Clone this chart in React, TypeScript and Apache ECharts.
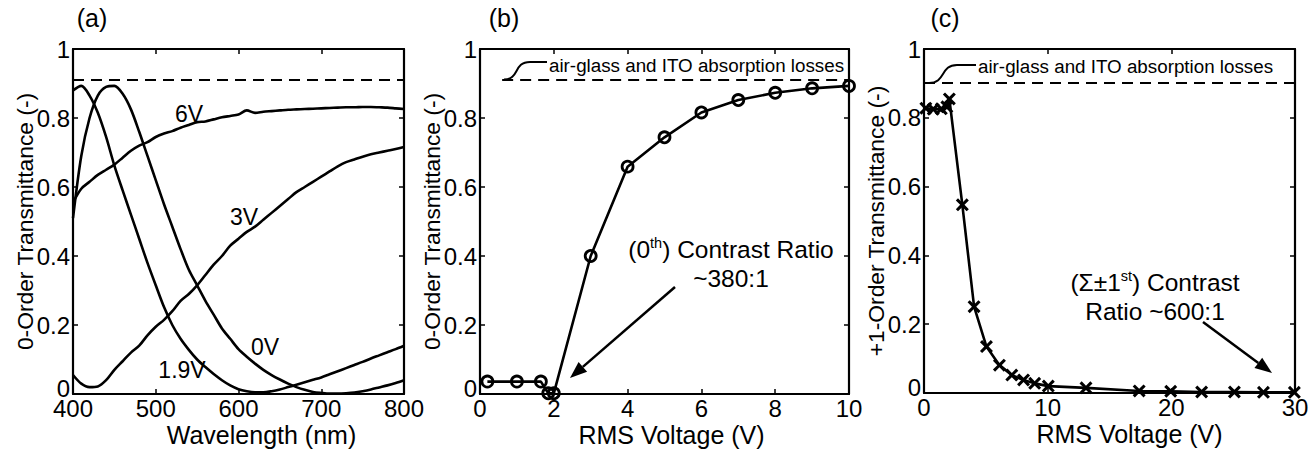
import React, { useEffect, useRef } from "react";
import * as echarts from "echarts";

const FONT = "'Liberation Sans', Arial, sans-serif";

// ---------- Panel (a): spectra ----------
const wavelengths = [400, 410, 420, 430, 440, 450, 460, 470, 480, 490, 500, 510, 520, 530, 540, 550, 560, 570, 580, 590, 600, 610, 620, 630, 640, 650, 660, 670, 680, 690, 700, 710, 720, 730, 740, 750, 760, 770, 780, 790, 800];
const trans0V = [0.51, 0.69, 0.8, 0.865, 0.89, 0.893, 0.87, 0.825, 0.76, 0.69, 0.62, 0.55, 0.485, 0.42, 0.36, 0.315, 0.27, 0.23, 0.19, 0.16, 0.13, 0.108, 0.088, 0.07, 0.055, 0.042, 0.03, 0.02, 0.012, 0.006, 0.003, 0.001, 0.001, 0.002, 0.004, 0.008, 0.013, 0.019, 0.025, 0.032, 0.04];
const trans19V = [0.88, 0.893, 0.865, 0.815, 0.745, 0.662, 0.59, 0.52, 0.45, 0.38, 0.315, 0.252, 0.2, 0.16, 0.128, 0.1, 0.078, 0.058, 0.04, 0.025, 0.014, 0.008, 0.005, 0.005, 0.008, 0.013, 0.02, 0.027, 0.034, 0.041, 0.048, 0.057, 0.066, 0.075, 0.084, 0.093, 0.103, 0.112, 0.121, 0.13, 0.14];
const trans3V = [0.055, 0.03, 0.02, 0.022, 0.04, 0.07, 0.095, 0.12, 0.14, 0.17, 0.195, 0.215, 0.24, 0.27, 0.29, 0.315, 0.345, 0.375, 0.4, 0.43, 0.45, 0.47, 0.485, 0.505, 0.525, 0.545, 0.565, 0.585, 0.6, 0.615, 0.63, 0.645, 0.66, 0.672, 0.68, 0.688, 0.695, 0.7, 0.705, 0.71, 0.716];
const trans6V = [0.555, 0.595, 0.615, 0.635, 0.65, 0.665, 0.685, 0.705, 0.72, 0.73, 0.745, 0.755, 0.762, 0.772, 0.78, 0.788, 0.79, 0.796, 0.802, 0.806, 0.81, 0.822, 0.815, 0.818, 0.82, 0.822, 0.824, 0.825, 0.826, 0.827, 0.828, 0.829, 0.83, 0.831, 0.831, 0.832, 0.832, 0.831, 0.83, 0.828, 0.826];
const lossLevelA = 0.912;

// ---------- Panel (b): 0th order vs voltage ----------
const voltsB = [0.2, 1, 1.65, 1.85, 2, 3, 4, 5, 6, 7, 8, 9, 10];
const transB = [0.036, 0.036, 0.036, 0.002, 0.002, 0.4, 0.659, 0.744, 0.816, 0.852, 0.873, 0.886, 0.893];
const lossLevelB = 0.912;
const lossStartB = 0.6;

// ---------- Panel (c): +1 order vs voltage ----------
const voltsC = [0.15, 0.75, 1.4, 1.85, 2.05, 3.1, 4.05, 5.05, 6.1, 7.1, 8.05, 8.95, 10.05, 13.1, 17.4, 19.95, 22.45, 25.1, 27.45, 29.95];
const transC = [0.828, 0.825, 0.826, 0.832, 0.855, 0.547, 0.251, 0.135, 0.081, 0.052, 0.038, 0.028, 0.02, 0.015, 0.006, 0.005, 0.003, 0.003, 0.002, 0.002];
const lossLevelC = 0.902;

const yTickLabels: Record<string, string> = { "0": "{z|0}", "0.2": "0.2", "0.4": "0.4", "0.6": "0.6", "0.8": "0.8", "1": "1" };

const zip = (xs: number[], ys: number[]) => xs.map((x, i) => [x, ys[i]]);

const X_SYMBOL = "path://M0,2 L2,0 L6,4 L10,0 L12,2 L8,6 L12,10 L10,12 L6,8 L2,12 L0,10 L4,6 Z";

function arrow(x1: number, y1: number, x2: number, y2: number, len = 17, half = 6.5) {
  const dx = x2 - x1, dy = y2 - y1;
  const L = Math.hypot(dx, dy);
  const ux = dx / L, uy = dy / L;
  const bx = x2 - ux * len, by = y2 - uy * len;
  const nx = uy, ny = -ux;
  return [
    { type: "line", shape: { x1, y1, x2: bx, y2: by }, style: { stroke: "#000", lineWidth: 2.5 } },
    {
      type: "polygon",
      shape: { points: [[x2, y2], [bx + nx * half, by + ny * half], [bx - nx * half, by - ny * half]] },
      style: { fill: "#000" },
    },
  ];
}

export default function App() {
  const ref = useRef<HTMLDivElement>(null);
  useEffect(() => {
    if (!ref.current) return;
    const chart = echarts.init(ref.current, null, { renderer: "svg" });

    const grids = [
      { left: 73, top: 49, width: 331, height: 345, outerBoundsMode: "none" },
      { left: 480, top: 49, width: 369, height: 345, outerBoundsMode: "none" },
      { left: 924, top: 49, width: 371, height: 344, outerBoundsMode: "none" },
    ];
    const xCfg = [
      { min: 400, max: 800, interval: 100, name: "Wavelength (nm)", pad: 46 },
      { min: 0, max: 10, interval: 2, name: "RMS Voltage (V)", pad: 14 },
      { min: 0, max: 30, interval: 10, name: "RMS Voltage (V)", pad: 40 },
    ];
    const yNames = ["0-Order Transmittance (-)", "0-Order Transmittance (-)", "+1-Order Transmittance (-)"];

    const axisLine = { show: true, onZero: false, lineStyle: { color: "#000", width: 2.2 } };
    const axisTick = { show: true, inside: true, length: 5, lineStyle: { color: "#000", width: 1.5 } };
    const labelStyle = { color: "#000", fontSize: 24, fontFamily: FONT };

    const xAxis: any[] = [];
    const yAxis: any[] = [];
    grids.forEach((g, i) => {
      const c = xCfg[i];
      xAxis.push({
        type: "value", gridIndex: i, position: "bottom", min: c.min, max: c.max, interval: c.interval,
        axisLine, axisTick, splitLine: { show: false },
        axisLabel: { ...labelStyle, margin: 2 },
        name: c.name, nameLocation: "middle", nameGap: 28, nameMoveOverlap: false,
        nameTextStyle: { color: "#000", fontSize: 25, fontFamily: FONT, padding: [0, 0, 0, c.pad] },
      });
      xAxis.push({
        type: "value", gridIndex: i, position: "top", min: c.min, max: c.max, interval: c.interval,
        axisLine, axisTick, splitLine: { show: false }, axisLabel: { show: false },
      });
      yAxis.push({
        type: "value", gridIndex: i, position: "left", min: 0, max: 1, interval: 0.2,
        axisLine, axisTick, splitLine: { show: false },
        axisLabel: {
          ...labelStyle, margin: 3,
          formatter: (v: number) => yTickLabels[String(+v.toFixed(1))] ?? String(v),
          rich: { z: { fontSize: 24, fontFamily: FONT, color: "#000", padding: [0, 0, 12, 0] } },
        },
        name: yNames[i], nameLocation: "middle", nameGap: 37, nameMoveOverlap: false,
        nameTextStyle: { color: "#000", fontSize: 22.8, fontFamily: FONT },
      });
      yAxis.push({
        type: "value", gridIndex: i, position: "right", min: 0, max: 1, interval: 0.2,
        axisLine, axisTick, splitLine: { show: false }, axisLabel: { show: false },
      });
    });

    const dash = (x0: number, x1: number, y: number) => ({
      symbol: "none", silent: true, label: { show: false },
      lineStyle: { type: [11, 7], color: "#000", width: 2.2 },
      data: [[{ coord: [x0, y] }, { coord: [x1, y] }]],
    });

    const curve = (name: string, ys: number[], extra: any = {}) => ({
      type: "line", name, xAxisIndex: 0, yAxisIndex: 0, data: zip(wavelengths, ys),
      smooth: 0.3, showSymbol: false, lineStyle: { color: "#000", width: 2.6 }, ...extra,
    });

    const series: any[] = [
      curve("0V", trans0V, { markLine: dash(400, 800, lossLevelA) }),
      curve("1.9V", trans19V),
      curve("3V", trans3V),
      curve("6V", trans6V),
      {
        type: "line", name: "0th", xAxisIndex: 2, yAxisIndex: 2, data: zip(voltsB, transB),
        symbol: "circle", symbolSize: 11, showAllSymbol: true,
        itemStyle: { color: "rgba(255,255,255,0)", borderColor: "#000", borderWidth: 2.8 },
        lineStyle: { color: "#000", width: 2.6 },
        markLine: dash(lossStartB, 10, lossLevelB),
      },
      {
        type: "line", name: "1st", xAxisIndex: 4, yAxisIndex: 4, data: zip(voltsC, transC),
        symbol: X_SYMBOL, symbolSize: 13, showAllSymbol: true,
        itemStyle: { color: "#000" },
        lineStyle: { color: "#000", width: 2.6 },
        markLine: dash(0, 30, lossLevelC),
      },
    ];

    const txt = (text: string, x: number, y: number, size = 23, align = "center") => ({
      type: "text", x, y,
      style: { text, fill: "#000", fontSize: size, fontFamily: FONT, align, verticalAlign: "middle" },
    });

    const rich = {
      n: { fontSize: 24.5, fontFamily: FONT, lineHeight: 29, fill: "#000", color: "#000" },
      s: { fontSize: 14.5, fontFamily: FONT, lineHeight: 14, verticalAlign: "top", fill: "#000", color: "#000" },
    };

    const graphic: any[] = [
      txt("(a)", 92, 18, 25),
      txt("(b)", 504, 18, 25),
      txt("(c)", 945, 18, 25),
      txt("6V", 189, 114),
      txt("3V", 244, 217),
      txt("0V", 265, 347),
      txt("1.9V", 182, 370),
      // leader curves + loss labels
      { type: "bezierCurve", shape: { x1: 504, y1: 79.5, cpx1: 520, cpy1: 79.5, cpx2: 513, cpy2: 62, x2: 530, y2: 62 }, style: { stroke: "#000", lineWidth: 2, fill: "none" } },
      { type: "line", shape: { x1: 530, y1: 62, x2: 547, y2: 62 }, style: { stroke: "#000", lineWidth: 2 } },
      txt("air-glass and ITO absorption losses", 549, 65, 18.8, "left"),
      { type: "bezierCurve", shape: { x1: 929, y1: 83, cpx1: 946, cpy1: 83, cpx2: 940, cpy2: 65, x2: 957, y2: 65 }, style: { stroke: "#000", lineWidth: 2, fill: "none" } },
      { type: "line", shape: { x1: 957, y1: 65, x2: 976, y2: 65 }, style: { stroke: "#000", lineWidth: 2 } },
      txt("air-glass and ITO absorption losses", 978, 66, 18.8, "left"),
      // contrast annotations
      {
        type: "text", x: 731, y: 264,
        style: { text: "{n|(0}{s|th}{n|) Contrast Ratio}\n{n|~380:1}", rich, align: "center", verticalAlign: "middle", fill: "#000" },
      },
      ...arrow(675, 287, 570, 378),
      {
        type: "text", x: 1155, y: 297,
        style: { text: "{n|(Σ±1}{s|st}{n|) Contrast}\n{n|Ratio ~600:1}", rich, align: "center", verticalAlign: "middle", fill: "#000" },
      },
      ...arrow(1203, 322, 1272, 373),
    ];

    chart.setOption({
      animation: false,
      backgroundColor: "#fff",
      textStyle: { fontFamily: FONT },
      grid: grids,
      xAxis,
      yAxis,
      series,
      graphic,
    });
    return () => chart.dispose();
  }, []);

  return (
    <div
      ref={ref}
      style={{ position: "absolute", left: 0, top: 0, width: 1310, height: 451, background: "#fff" }}
    />
  );
}
